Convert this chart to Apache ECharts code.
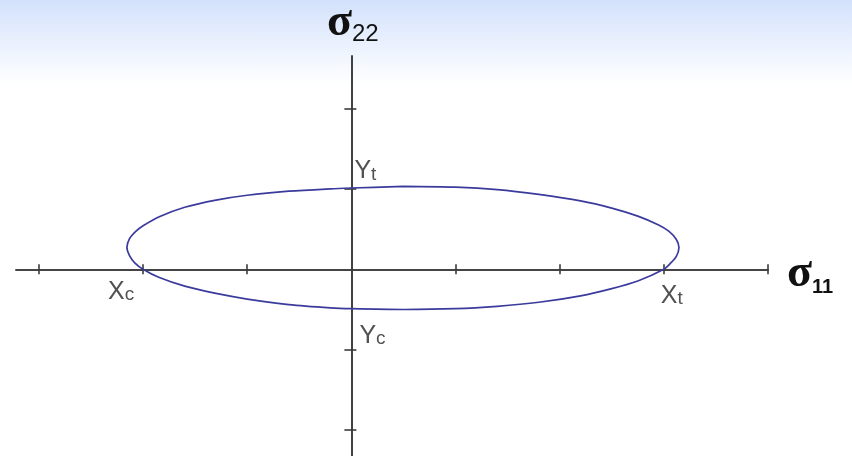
<!DOCTYPE html>
<html>
<head>
<meta charset="utf-8">
<script src="https://cdn.jsdelivr.net/npm/echarts@6/dist/echarts.min.js"></script>
<style>
  html, body { margin: 0; padding: 0; }
  body { width: 852px; height: 456px; background: linear-gradient(to bottom, #d2e1fb 0px, #e8f0fd 40px, #ffffff 85px, #ffffff 100%); }
  #chart { width: 852px; height: 456px; }
</style>
</head>
<body>
<div id="chart"></div>
<script>
// Failure envelope in the sigma11 / sigma22 stress plane (one unit per tick),
// traced clockwise starting from the top of the curve
const envelope = [
  [0.50, 1.03], [1.00, 1.02], [1.40, 0.99], [1.80, 0.93], [2.20, 0.85],
  [2.50, 0.76], [2.75, 0.66], [2.95, 0.55], [3.05, 0.47], [3.12, 0.37],
  [3.145, 0.27], [3.12, 0.16], [3.06, 0.07], [3.00, 0.00], [2.75, -0.145],
  [2.50, -0.24], [2.20, -0.33], [1.80, -0.41], [1.40, -0.46], [1.00, -0.49],
  [0.50, -0.50], [0.00, -0.49], [-0.20, -0.48], [-0.60, -0.44], [-1.00, -0.37],
  [-1.30, -0.30], [-1.60, -0.21], [-1.85, -0.10], [-2.00, 0.00], [-2.08, 0.08],
  [-2.13, 0.17], [-2.155, 0.27], [-2.13, 0.38], [-2.07, 0.47], [-2.00, 0.54],
  [-1.85, 0.65], [-1.60, 0.77], [-1.30, 0.86], [-1.00, 0.92], [-0.60, 0.97],
  [-0.20, 1.00], [0.00, 1.01], [0.50, 1.03]
];

// Strength points where the envelope meets the axes
const strengthNames = ['X', 'X', 'Y', 'Y'];
const strengthSubs = ['c', 't', 't', 'c'];
const strengthPoints = [[-2, 0], [3, 0], [0, 1.01], [0, -0.49]];

// Axis extents and tick positions
const xRange = [-3.22, 4];
const yRange = [-2.32, 2.65];
const xTicks = [-3, -2, -1, 1, 2, 3, 4];
const yTicks = [-2, -1, 1, 2];

const axisColor = '#3a3a3a';
const labelOffsets = [[-35, 35], [-3, 39], [3, -4], [8, 40]];

function xAxisDef(position) {
  return {
    type: 'value', position: position, min: xRange[0], max: xRange[1],
    axisLine: { show: true, onZero: true, lineStyle: { color: axisColor, width: 1.6 } },
    axisTick: { show: true, inside: false, length: 5, customValues: xTicks, lineStyle: { color: axisColor, width: 1.6 } },
    axisLabel: { show: false }, splitLine: { show: false }
  };
}
function yAxisDef(position, len) {
  return {
    type: 'value', position: position, min: yRange[0], max: yRange[1],
    axisLine: { show: true, onZero: true, lineStyle: { color: axisColor, width: 1.6 } },
    axisTick: { show: true, inside: false, length: len, customValues: yTicks, lineStyle: { color: axisColor, width: 1.6 } },
    axisLabel: { show: false }, splitLine: { show: false }
  };
}

const chart = echarts.init(document.getElementById('chart'), null, { renderer: 'canvas' });

const labelFont = 'Liberation Sans, Arial, sans-serif';
const pointData = strengthPoints.map((p, i) => ({
  value: p,
  label: {
    show: true,
    position: labelOffsets[i],
    align: 'left',
    verticalAlign: 'bottom',
    formatter: '{a|' + strengthNames[i] + '}{b|' + strengthSubs[i] + '}',
    rich: {
      a: { fontFamily: labelFont, fontSize: 25, color: '#262626', verticalAlign: 'bottom' },
      b: { fontFamily: labelFont, fontSize: 19, color: '#262626', verticalAlign: 'bottom' }
    }
  }
}));

chart.setOption({
  backgroundColor: 'transparent',
  animation: false,
  grid: { left: 16, right: 84, top: 56, bottom: 0, containLabel: false },
  xAxis: [xAxisDef('bottom'), xAxisDef('top')],
  yAxis: [yAxisDef('left', 7), yAxisDef('right', 5)],
  series: [
    {
      type: 'line',
      xAxisIndex: 0, yAxisIndex: 0,
      data: envelope,
      smooth: 0.3,
      showSymbol: false,
      lineStyle: { color: '#3b3b9e', width: 1.7 },
      z: 3
    },
    {
      type: 'scatter',
      xAxisIndex: 0, yAxisIndex: 0,
      symbolSize: 0,
      data: pointData,
      z: 4
    }
  ],
  graphic: [
    {
      type: 'text', left: 327, top: 0,
      style: {
        text: '{s|σ}{n|22}',
        rich: {
          s: { fontFamily: 'Liberation Serif, Times New Roman, serif', fontWeight: 'bold', fontSize: 46, fill: '#111', verticalAlign: 'bottom' },
          n: { fontFamily: 'Liberation Sans Narrow, Liberation Sans, sans-serif', fontSize: 24, fill: '#111', verticalAlign: 'bottom' }
        }
      }
    },
    {
      type: 'text', left: 787, top: 251,
      style: {
        text: '{s|σ}{n|11}',
        rich: {
          s: { fontFamily: 'Liberation Serif, Times New Roman, serif', fontWeight: 'bold', fontSize: 46, fill: '#111', verticalAlign: 'bottom' },
          n: { fontFamily: 'Liberation Sans, Arial, sans-serif', fontWeight: 'bold', fontSize: 20, fill: '#111', verticalAlign: 'bottom' }
        }
      }
    }
  ]
});
</script>
</body>
</html>
